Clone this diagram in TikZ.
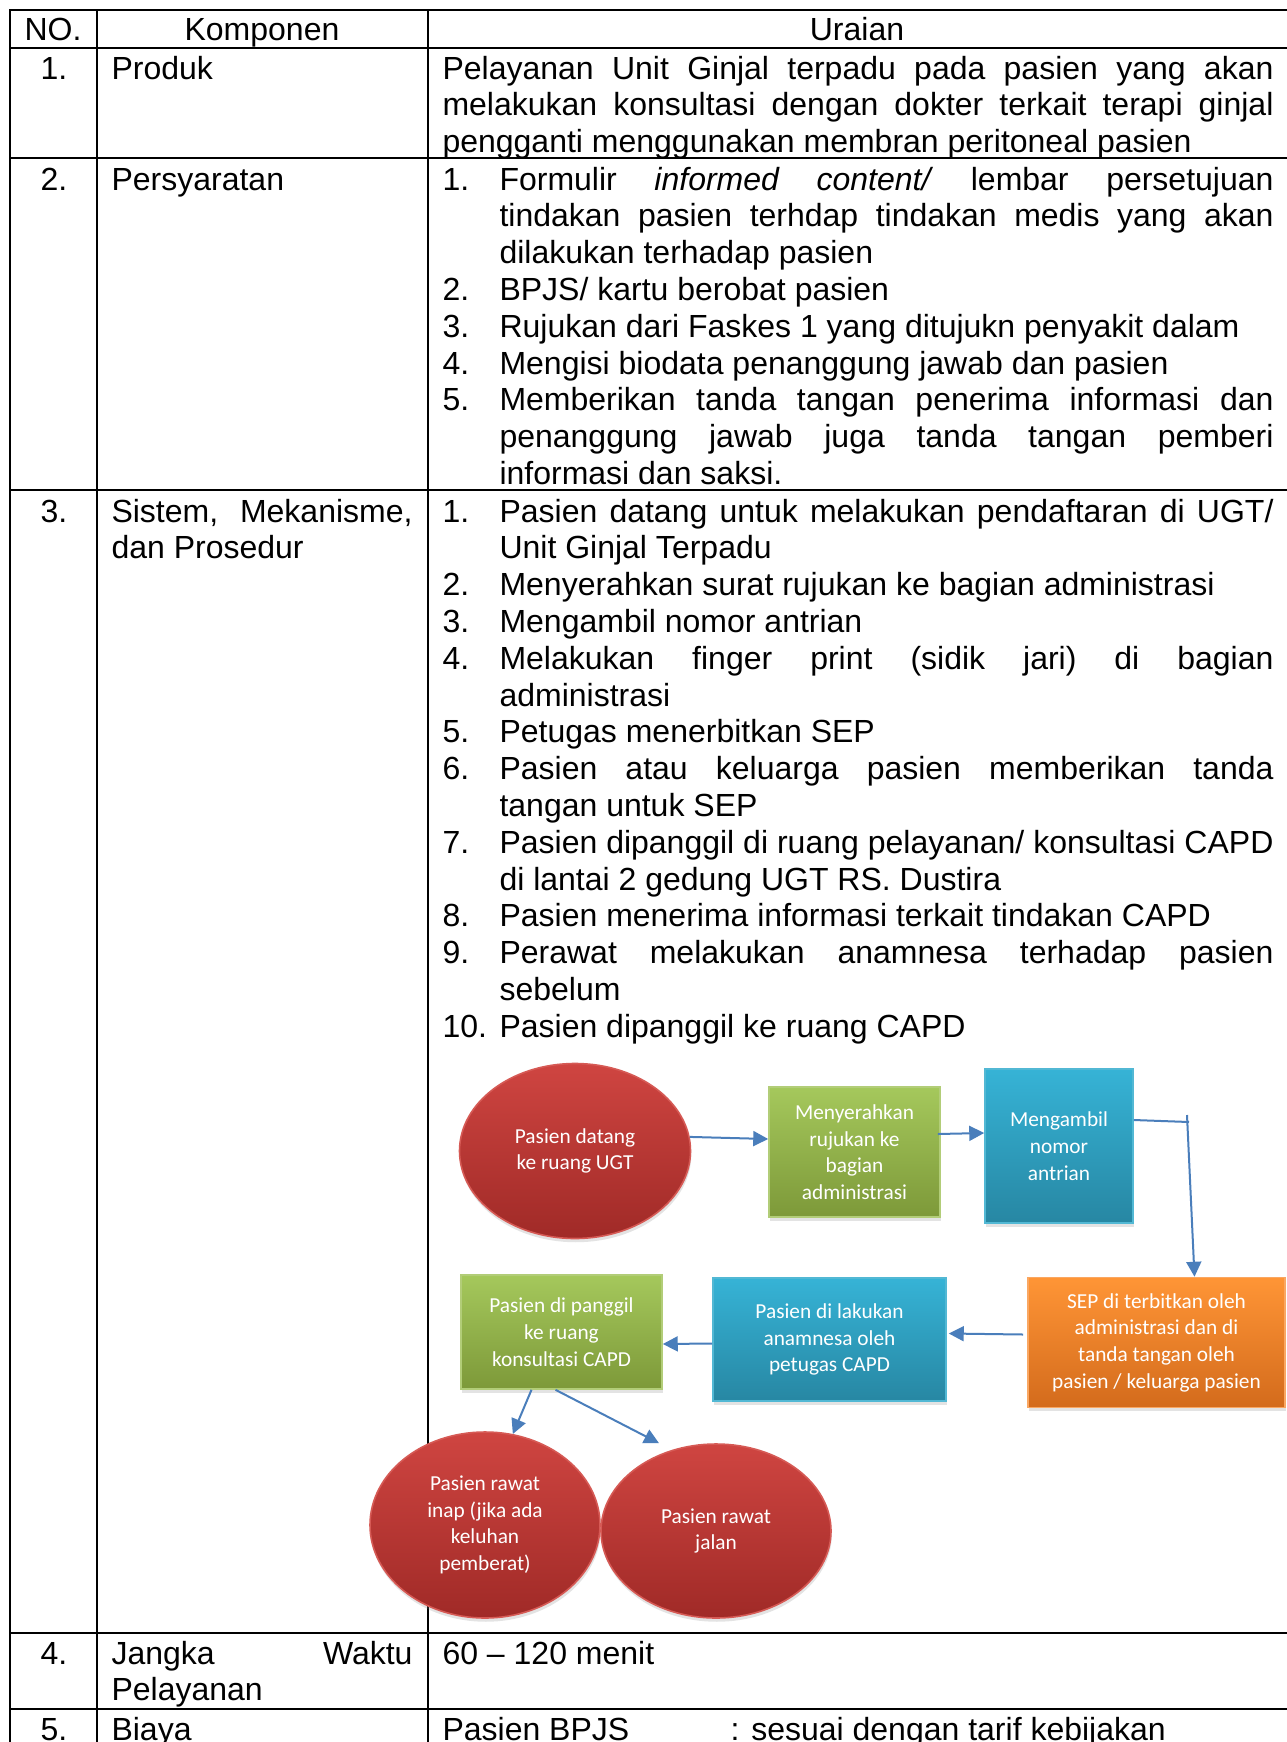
\documentclass[tikz,border=0pt]{standalone}
\usepackage{fontspec}
\setmainfont{Liberation Sans}
\newfontfamily\calib{Carlito}
\usetikzlibrary{shapes.geometric,arrows.meta,calc,shadows}

% one drawing unit
\newlength\pxu \setlength\pxu{0.375pt}
% widths used by the text cells
\newlength\numw \setlength\numw{57\pxu}
\newlength\colw \setlength\colw{831\pxu}
\newlength\komw \setlength\komw{301\pxu}

% line helpers: justified / left lines, numbered items, continuation lines
\newcommand\lnJ[1]{\hbox to\hsize{#1}}
\newcommand\lnL[1]{\hbox to\hsize{#1\hfil}}
\newcommand\itJ[2]{\hbox to\hsize{\hbox to\numw{#1\hfil}#2}}
\newcommand\itL[2]{\hbox to\hsize{\hbox to\numw{#1\hfil}#2\hfil}}
\newcommand\ctJ[1]{\hbox to\hsize{\hskip\numw\relax #1}}
\newcommand\ctL[1]{\hbox to\hsize{\hskip\numw\relax #1\hfil}}
\newcommand\tcell[2]{\parbox[t]{#1}{\fontsize{12pt}{13.8pt}\selectfont #2}}

\definecolor{redT}{HTML}{CF4541}
\definecolor{redB}{HTML}{A02A27}
\definecolor{redL}{HTML}{D65A55}
\definecolor{grnT}{HTML}{A5C85C}
\definecolor{grnB}{HTML}{7D9939}
\definecolor{grnL}{HTML}{B2CD78}
\definecolor{bluT}{HTML}{36B3D6}
\definecolor{bluB}{HTML}{2787A3}
\definecolor{bluL}{HTML}{52B8D4}
\definecolor{orgT}{HTML}{FF9536}
\definecolor{orgB}{HTML}{D36B1C}
\definecolor{orgL}{HTML}{FAA762}
\definecolor{flowblue}{HTML}{4A7EBB}

\begin{document}
\begin{tikzpicture}[x=0.375pt,y=-0.375pt,
  rule/.style={line width=2.2\pxu, line cap=rect, black},
  txt/.style={inner sep=0pt, font=\fontsize{12pt}{13.8pt}\selectfont},
  shp/.style={font=\calib\fontsize{8pt}{10pt}\selectfont, text=white, align=center,
    inner sep=0pt, line width=1.6\pxu,
    drop shadow={shadow xshift=0.3pt, shadow yshift=-1.4pt, opacity=0.22}},
  redell/.style={shp, ellipse, top color=redT, bottom color=redB, draw=redL},
  grnbox/.style={shp, rectangle, top color=grnT, bottom color=grnB, draw=grnL},
  blubox/.style={shp, rectangle, top color=bluT, bottom color=bluB, draw=bluL},
  orgbox/.style={shp, rectangle, top color=orgT, bottom color=orgB, draw=orgL},
  flowline/.style={draw=flowblue, line width=2\pxu},
  flow/.style={flowline, -{Triangle[length=5.6pt,width=5.6pt]}}]

\useasboundingbox (0,0) rectangle (1287,1742);
\clip (0,0) rectangle (1287,1742);
\fill[white] (0,0) rectangle (1287,1742);

% table rules
\foreach \yy in {10,48,158,490,1633,1709} \draw[rule] (10,\yy) -- (1295,\yy);
\foreach \xx in {10,97,428} \draw[rule] (\xx,10) -- (\xx,1750);

% header
\node[txt, anchor=base] (hNo) at (53,40) {NO.};
\node[txt, anchor=base] (hKomp) at (262,40) {Komponen};
\node[txt, anchor=base] (hUr) at (857,40) {Uraian};

% numbers
\node[txt, anchor=base] (n1) at (54,79) {1.};
\node[txt, anchor=base] (n2) at (54,190) {2.};
\node[txt, anchor=base] (n3) at (54,522) {3.};
\node[txt, anchor=base] (n4) at (54,1664) {4.};
\node[txt, anchor=base] (n5) at (54,1740) {5.};

% components
\node[txt, anchor=base west] (k1) at (111,79) {Produk};
\node[txt, anchor=base west] (k2) at (111,190) {Persyaratan};
\node[txt, anchor=base west] (k3) at (111,522) {\tcell{\komw}{\lnJ{Sistem, Mekanisme,}\lnL{dan Prosedur}}};
\node[txt, anchor=base west] (k4) at (111,1664) {\tcell{\komw}{\lnJ{Jangka Waktu}\lnL{Pelayanan}}};
\node[txt, anchor=base west] (k5) at (111,1740) {Biaya};

% descriptions
\node[txt, anchor=base west] (u1) at (442,79) {\tcell{\colw}{%
  \lnJ{Pelayanan Unit Ginjal terpadu pada pasien yang akan}
  \lnJ{melakukan konsultasi dengan dokter terkait terapi ginjal}
  \lnL{pengganti menggunakan membran peritoneal pasien}}};

\node[txt, anchor=base west] (u2) at (442,190) {\tcell{\colw}{%
  \itJ{1.}{Formulir \textit{informed content/} lembar persetujuan}
  \ctJ{tindakan pasien terhdap tindakan medis yang akan}
  \ctL{dilakukan terhadap pasien}
  \itL{2.}{BPJS/ kartu berobat pasien}
  \itL{3.}{Rujukan dari Faskes 1 yang ditujukn penyakit dalam}
  \itL{4.}{Mengisi biodata penanggung jawab dan pasien}
  \itJ{5.}{Memberikan tanda tangan penerima informasi dan}
  \ctJ{penanggung jawab juga tanda tangan pemberi}
  \ctL{informasi dan saksi.}}};

\node[txt, anchor=base west] (u3) at (442,522) {\tcell{\colw}{%
  \itJ{1.}{Pasien datang untuk melakukan pendaftaran di UGT/}
  \ctL{Unit Ginjal Terpadu}
  \itL{2.}{Menyerahkan surat rujukan ke bagian administrasi}
  \itL{3.}{Mengambil nomor antrian}
  \itJ{4.}{Melakukan finger print (sidik jari) di bagian}
  \ctL{administrasi}
  \itL{5.}{Petugas menerbitkan SEP}
  \itJ{6.}{Pasien atau keluarga pasien memberikan tanda}
  \ctL{tangan untuk SEP}
  \itJ{7.}{Pasien dipanggil di ruang pelayanan/ konsultasi CAPD}
  \ctL{di lantai 2 gedung UGT RS. Dustira}
  \itL{8.}{Pasien menerima informasi terkait tindakan CAPD}
  \itJ{9.}{Perawat melakukan anamnesa terhadap pasien}
  \ctL{sebelum}
  \itL{10.}{Pasien dipanggil ke ruang CAPD}}};

\node[txt, anchor=base west] (u4) at (442,1664) {60 -- 120 menit};
\node[txt, anchor=base west] (u5a) at (442,1740) {Pasien BPJS};
\node[txt, anchor=base west] (u5b) at (730,1740) {: sesuai dengan tarif kebijakan};

% flow chart
\node[redell, minimum width=231\pxu, minimum height=175\pxu] (e1) at (575,1151) {Pasien datang\\ke ruang UGT};
\node[grnbox, minimum width=171\pxu, minimum height=130\pxu] (g1) at (854.5,1152) {Menyerahkan\\rujukan ke\\bagian\\administrasi};
\node[blubox, minimum width=148\pxu, minimum height=154\pxu] (b1) at (1059,1146) {Mengambil\\nomor\\antrian};
\node[orgbox, minimum width=257\pxu, minimum height=130\pxu] (o) at (1156.5,1342.5) {SEP di terbitkan oleh\\administrasi dan di\\tanda tangan oleh\\pasien / keluarga pasien};
\node[blubox, minimum width=233\pxu, minimum height=123\pxu] (b2) at (829.5,1339.5) {Pasien di lakukan\\anamnesa oleh\\petugas CAPD};
\node[grnbox, minimum width=201\pxu, minimum height=114\pxu] (g2) at (561.5,1332) {Pasien di panggil\\ke ruang\\konsultasi CAPD};
\node[redell, minimum width=230\pxu, minimum height=186\pxu] (e2) at (485,1525) {Pasien rawat\\inap (jika ada\\keluhan\\pemberat)};
\node[redell, minimum width=230\pxu, minimum height=174\pxu] (e3) at (716,1531) {Pasien rawat\\jalan};

\coordinate (c3a) at (1189,1122);
\coordinate (c3b) at (1187,1115);

\draw[flow] (e1.7) -- ($(g1.west)+(0,-13)$);
\draw[flow] ($(g1.east)+(-3,-18)$) -- ($(b1.west)+(0,-13)$);
\draw[flowline] ($(b1.east)+(0,-26)$) -- (c3a);
\draw[flow] (c3b) -- ($(o.north)+(38,0)$);
\draw[flow] ($(o.west)+(-4,-8)$) -- ($(b2.east)+(2,-6)$);
\draw[flow] ($(b2.west)+(0,4)$) -- ($(g2.east)+(0,12)$);
\draw[flow] ($(g2.south)+(-30,0)$) -- (e2.73);
\draw[flow] ($(g2.south)+(-6,0)$) -- ($(e3.north)+(-57,0)$);

\end{tikzpicture}
\end{document}
